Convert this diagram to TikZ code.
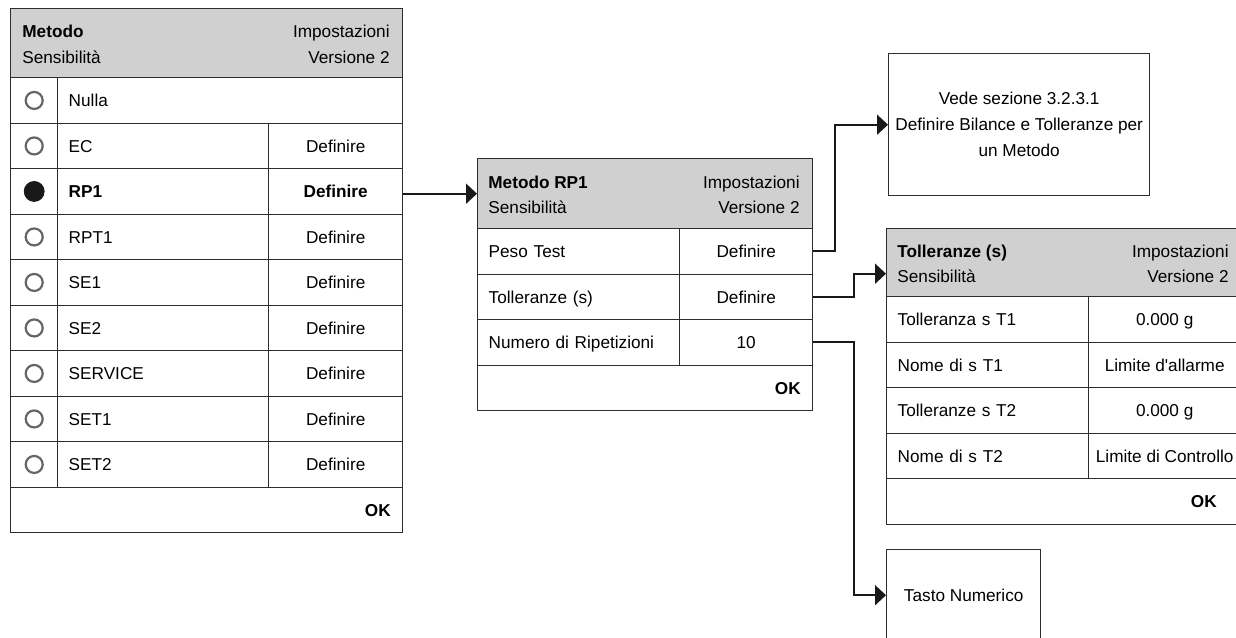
\documentclass[tikz,border=0pt]{standalone}
\usepackage{fontspec}
\setmainfont{Liberation Sans}
\usetikzlibrary{arrows.meta}

\definecolor{hdrgray}{RGB}{208,208,208}
\definecolor{linegray}{RGB}{45,45,45}

\tikzset{
  fs/.style={font=\fontsize{8.6}{13}\selectfont},
  cell/.style={draw=linegray, line width=0.7pt, anchor=north west, inner sep=0pt, minimum height=22.75pt,
    text height=6.2pt, text depth=0pt, fs},
  lcell/.style={cell, align=left, inner xsep=5.5pt, text width=#1},
  vcell/.style={cell, align=center, minimum width=#1},
  okcell/.style={cell, align=right, inner xsep=6pt, text width=#1},
  hdr/.style={draw=linegray, line width=0.7pt, fill=hdrgray, anchor=north west, inner sep=0pt},
  htxt/.style={fs, inner sep=0pt},
  radio/.style={circle, draw=black!60, line width=1.1pt, minimum size=8.5pt, inner sep=0pt},
  radioon/.style={circle, draw=black!90, fill=black!90, minimum size=10pt, inner sep=0pt},
  infobox/.style={draw=linegray, line width=0.7pt, anchor=north west, align=center, fs},
  conn/.style={draw=black!90, line width=1pt, -{Triangle[length=5.5pt,width=10pt]}},
}

\begin{document}
\begin{tikzpicture}[x=0.5pt, y=-0.5pt]
            \useasboundingbox (0,0) rectangle (1236,637);
            \clip (0,0) rectangle (1236,637);
            % method list
            \node[hdr, minimum width=196pt, minimum height=34.5pt] (hdrA) at (10,8) {};
            \node[htxt, anchor=base west] (hA1) at (22,37) {\textbf{Metodo}};
            \node[htxt, anchor=base west] (hA2) at (22,63) {Sensibilità};
            \node[htxt, anchor=base east] (hA3) at (390,37) {Impostazioni};
            \node[htxt, anchor=base east] (hA4) at (390,63) {Versione 2};
            \node[cell, minimum width=23.5pt] (rb1) at (10,77) {}; \node[radio] (ra1) at (rb1) {};
            \node[lcell=161.5pt] (nulla) at (57,77) {Nulla};
            \node[cell, minimum width=23.5pt] (rb2) at (10,122.5) {}; \node[radio] (ra2) at (rb2) {};
            \node[lcell=94.5pt] (ecL) at (57,122.5) {EC};
            \node[vcell=67pt] (ecV) at (268,122.5) {Definire};
            \node[cell, minimum width=23.5pt] (rb3) at (10,168) {}; \node[radioon] (ra3) at (rb3) {};
            \node[lcell=94.5pt] (rp1L) at (57,168) {\textbf{RP1}};
            \node[vcell=67pt] (rp1V) at (268,168) {\textbf{Definire}};
            \node[cell, minimum width=23.5pt] (rb4) at (10,213.5) {}; \node[radio] (ra4) at (rb4) {};
            \node[lcell=94.5pt] (rpt1L) at (57,213.5) {RPT1};
            \node[vcell=67pt] (rpt1V) at (268,213.5) {Definire};
            \node[cell, minimum width=23.5pt] (rb5) at (10,259) {}; \node[radio] (ra5) at (rb5) {};
            \node[lcell=94.5pt] (se1L) at (57,259) {SE1};
            \node[vcell=67pt] (se1V) at (268,259) {Definire};
            \node[cell, minimum width=23.5pt] (rb6) at (10,304.5) {}; \node[radio] (ra6) at (rb6) {};
            \node[lcell=94.5pt] (se2L) at (57,304.5) {SE2};
            \node[vcell=67pt] (se2V) at (268,304.5) {Definire};
            \node[cell, minimum width=23.5pt] (rb7) at (10,350) {}; \node[radio] (ra7) at (rb7) {};
            \node[lcell=94.5pt] (servL) at (57,350) {SERVICE};
            \node[vcell=67pt] (servV) at (268,350) {Definire};
            \node[cell, minimum width=23.5pt] (rb8) at (10,395.5) {}; \node[radio] (ra8) at (rb8) {};
            \node[lcell=94.5pt] (set1L) at (57,395.5) {SET1};
            \node[vcell=67pt] (set1V) at (268,395.5) {Definire};
            \node[cell, minimum width=23.5pt] (rb9) at (10,441) {}; \node[radio] (ra9) at (rb9) {};
            \node[lcell=94.5pt] (set2L) at (57,441) {SET2};
            \node[vcell=67pt] (set2V) at (268,441) {Definire};
            \node[okcell=184pt] (okA) at (10,486.5) {\textbf{OK}};
            % method RP1
            \node[hdr, minimum width=167.5pt, minimum height=35pt] (hdrB) at (477,158) {};
            \node[htxt, anchor=base west] (hB1) at (488,188) {\textbf{Metodo RP1}};
            \node[htxt, anchor=base west] (hB2) at (488,213) {Sensibilità};
            \node[htxt, anchor=base east] (hB3) at (800,188) {Impostazioni};
            \node[htxt, anchor=base east] (hB4) at (800,213) {Versione 2};
            \node[lcell=90pt] (pesoL) at (477,228) {Peso Test};
            \node[vcell=66.5pt] (pesoV) at (679,228) {Definire};
            \node[lcell=90pt] (tolL) at (477,273.5) {Tolleranze (s)};
            \node[vcell=66.5pt] (tolV) at (679,273.5) {Definire};
            \node[lcell=90pt] (numL) at (477,319) {Numero di Ripetizioni};
            \node[vcell=66.5pt] (numV) at (679,319) {10};
            \node[okcell=155.5pt] (okB) at (477,364.5) {\textbf{OK}};
            % targets
            \node[infobox, minimum width=128.5pt, minimum height=71pt] (vede) at (888,53)
                {Vede sezione 3.2.3.1\\Definire Bilance e Tolleranze per\\un Metodo};
            \node[hdr, minimum width=177pt, minimum height=34pt] (hdrC) at (886,228) {};
            \node[htxt, anchor=base west] (hC1) at (897,257) {\textbf{Tolleranze (s)}};
            \node[htxt, anchor=base west] (hC2) at (897,282) {Sensibilità};
            \node[htxt, anchor=base east] (hC3) at (1229,257) {Impostazioni};
            \node[htxt, anchor=base east] (hC4) at (1229,282) {Versione 2};
            \node[lcell=90pt] (t1L) at (886,296) {Tolleranza s T1};
            \node[vcell=76pt] (t1V) at (1088,296) {0.000 g};
            \node[lcell=90pt] (n1L) at (886,341.5) {Nome di s T1};
            \node[vcell=76pt] (n1V) at (1088,341.5) {Limite d\textquotesingle allarme};
            \node[lcell=90pt] (t2L) at (886,387) {Tolleranze s T2};
            \node[vcell=76pt] (t2V) at (1088,387) {0.000 g};
            \node[lcell=90pt] (n2L) at (886,432.5) {Nome di s T2};
            \node[vcell=76pt] (n2V) at (1088,432.5) {Limite di Controllo};
            \node[okcell=153pt, inner xsep=12pt] (okC) at (886,478) {\textbf{OK}};
            \node[infobox, minimum width=77pt, minimum height=45.5pt] (tasto) at (886,549) {Tasto Numerico};
            % connectors
            \draw[conn] (rp1V.east |- hdrB.west) -- (hdrB.west);
            \draw[conn] (pesoV.east) -- ++(22,0) |- (vede.west);
            \draw[conn] (tolV.east) -- ++(41,0) |- ([yshift=-5.5pt]hdrC.west);
            \draw[conn] (numV.east) -- ++(41,0) |- (tasto.west);
        \end{tikzpicture}
\end{document}
